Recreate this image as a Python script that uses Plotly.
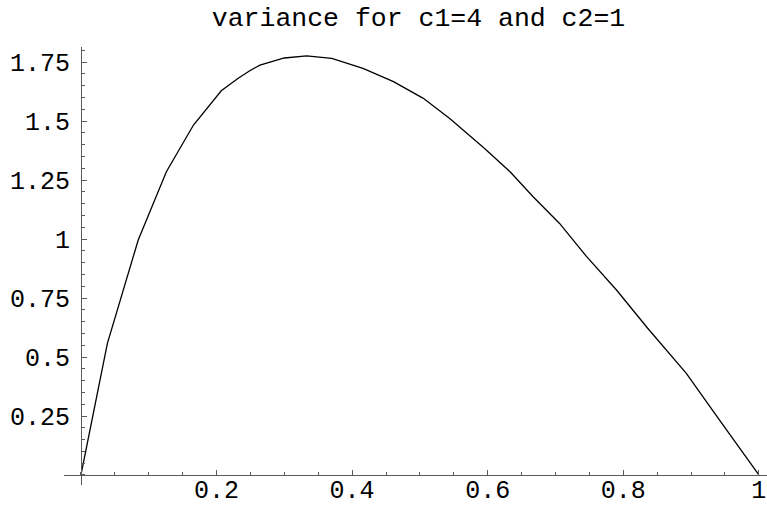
import plotly.graph_objects as go

# values
p_values = [0.0, 0.039, 0.0845, 0.126, 0.166, 0.188, 0.207, 0.232, 0.249, 0.264,
            0.30, 0.333, 0.37, 0.416, 0.461, 0.505, 0.544, 0.595, 0.633, 0.667,
            0.706, 0.746, 0.790, 0.836, 0.893, 0.942, 1.0]
variance = [0.0, 0.558, 0.996, 1.285, 1.483, 1.56, 1.628, 1.681, 1.713, 1.737,
            1.767, 1.776, 1.765, 1.723, 1.667, 1.596, 1.511, 1.385, 1.285, 1.179,
            1.066, 0.925, 0.784, 0.622, 0.431, 0.233, 0.0]

x_tickvals = [0.2, 0.4, 0.6, 0.8, 1.0]
x_ticktext = ["0.2", "0.4", "0.6", "0.8", "1"]
y_tickvals = [0.25, 0.5, 0.75, 1.0, 1.25, 1.5, 1.75]
y_ticktext = ["0.25", "0.5", "0.75", "1", "1.25", "1.5", "1.75"]
title_text = "variance for c1=4 and c2=1"

x_range = [-0.025, 1.012]
y_range = [-0.0424, 1.8136]

FONT = "Courier New, Nimbus Mono PS, Courier, Liberation Mono, monospace"
AXIS_COLOR = "#5a5a5a"

fig = go.Figure()
fig.add_trace(go.Scatter(x=p_values, y=variance, mode="lines",
                         line=dict(color="black", width=1.3), showlegend=False,
                         hoverinfo="skip"))

x_pos = (0 - y_range[0]) / (y_range[1] - y_range[0])
y_pos = (0 - x_range[0]) / (x_range[1] - x_range[0])

fig.update_layout(
    template="none",
    width=767, height=508,
    margin=dict(l=64, r=0, t=47, b=23, autoexpand=False),
    paper_bgcolor="white", plot_bgcolor="white",
    title=dict(text=title_text, x=418.5 / 767, xref="container", xanchor="center",
               y=1 - 17 / 508, yref="container", yanchor="middle",
               font=dict(family=FONT, size=26.5, color="black")),
    xaxis=dict(range=x_range, showgrid=False, zeroline=False, automargin=False,
               showline=True, linecolor=AXIS_COLOR, linewidth=1,
               anchor="free", position=x_pos, side="bottom",
               tickmode="array", tickvals=x_tickvals, ticktext=x_ticktext,
               ticks="inside", ticklen=5, tickcolor=AXIS_COLOR, tickwidth=1,
               minor=dict(tickmode="linear", tick0=0, dtick=0.05, ticks="inside",
                          ticklen=3, tickcolor=AXIS_COLOR, tickwidth=1, showgrid=False),
               tickfont=dict(family=FONT, size=25, color="black"),
               ticklabelstandoff=-8),
    yaxis=dict(range=y_range, showgrid=False, zeroline=False, automargin=False,
               showline=True, linecolor=AXIS_COLOR, linewidth=1,
               anchor="free", position=y_pos, side="left",
               tickmode="array", tickvals=y_tickvals, ticktext=y_ticktext,
               ticks="inside", ticklen=5, tickcolor=AXIS_COLOR, tickwidth=1,
               minor=dict(tickmode="linear", tick0=0, dtick=0.05, ticks="inside",
                          ticklen=3, tickcolor=AXIS_COLOR, tickwidth=1, showgrid=False),
               tickfont=dict(family=FONT, size=25, color="black"),
               ticklabelstandoff=6),
)

fig.write_html("out.html", config={"displayModeBar": False},
               post_script="document.body.style.margin='0';document.body.style.overflow='hidden';")
